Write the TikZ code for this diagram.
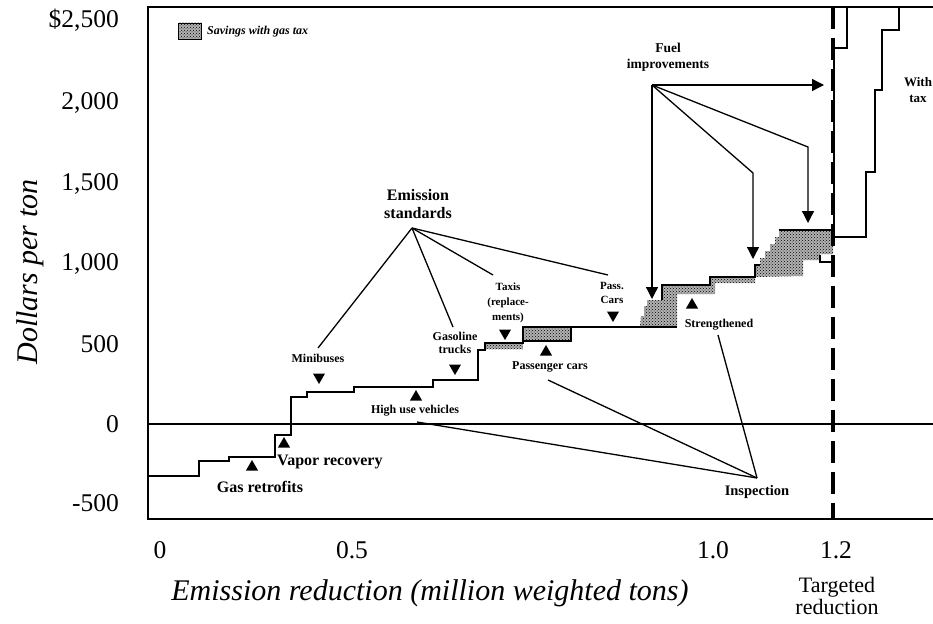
\documentclass[tikz,border=0pt]{standalone}
\usepackage{fontspec}
\setmainfont{Liberation Serif}
\usetikzlibrary{shapes.geometric,patterns,arrows.meta}
\begin{document}
\begin{tikzpicture}[x=1pt,y=-1pt,
  frameline/.style={line width=1.5pt},
  curve/.style={line width=1.7pt, line join=miter},
  taxcurve/.style={line width=1.4pt},
  leader/.style={line width=1.3pt},
  fuelarrow/.style={line width=1.3pt, -{Triangle[length=12pt,width=12pt]}},
  savingsbg/.style={fill=black!30},
  savings/.style={pattern=crosshatch dots, pattern color=black},
  mkup/.style={regular polygon, regular polygon sides=3, fill=black, inner sep=0pt, minimum size=14pt},
  mkdown/.style={mkup, shape border rotate=180},
  lab/.style={font=\fontsize{12}{13.5}\selectfont\bfseries, align=center, inner sep=0pt},
  biglab/.style={font=\fontsize{16}{17}\selectfont\bfseries, align=center, inner sep=0pt},
  tick/.style={font=\fontsize{25.5}{27}\selectfont, inner sep=0pt},
  axtitle/.style={font=\fontsize{30}{30}\selectfont\itshape, inner sep=0pt}
]
\useasboundingbox (0,0) rectangle (933,623);

% frame
\draw[frameline] (933,7) -- (148,7) -- (148,519) -- (933,519);
\draw[line width=1.3pt] (148,424) -- (933,424);

% y tick labels
\node[tick, anchor=east] (y2500) at (119,20) {\$2,500};
\node[tick, anchor=east] (y2000) at (119,103) {2,000};
\node[tick, anchor=east] (y1500) at (119,184) {1,500};
\node[tick, anchor=east] (y1000) at (119,264) {1,000};
\node[tick, anchor=east] (y500) at (119,344) {500};
\node[tick, anchor=east] (y0) at (119,424) {0};
\node[tick, anchor=east] (ym500) at (119,503) {-500};
\node[axtitle, rotate=90] (ytitle) at (30,272) {Dollars per ton};

% x tick labels
\node[tick] (x0) at (160,550) {0};
\node[tick] (x05) at (352,550) {0.5};
\node[tick] (x10) at (713,550) {1.0};
\node[tick] (x12) at (836,550) {1.2};
\node[axtitle] (xtitle) at (430,593) {Emission reduction (million weighted tons)};
\node[font=\fontsize{22}{22}\selectfont, align=center, inner sep=0pt] (target) at (837,596) {Targeted\\reduction};

% legend
\fill[savingsbg] (178,23) rectangle (201,39);
\fill[savings] (178,23) rectangle (201,39);
\draw[line width=0.8pt] (178,23) rectangle (201,39);
\node[font=\fontsize{12}{13}\selectfont\bfseries\itshape, anchor=west, inner sep=0pt] (legend) at (207,32) {Savings with gas tax};

% savings areas
\foreach \st in {savingsbg,savings}{
\fill[\st] (485,343) rectangle (523,349);
\fill[\st] (523,327) rectangle (571,341);
\fill[\st] (640,327) -- (641,316) -- (644,316) -- (644,306) -- (647,306) -- (647,300) -- (662,300) -- (662,285) -- (710,285) -- (710,277) -- (755,277) -- (755,283) -- (715,283) -- (715,294) -- (677,294) -- (677,327) -- cycle;
\fill[\st] (755,277) -- (755,265) -- (760,265) -- (760,258) -- (765,258) -- (765,251) -- (770,251) -- (770,244) -- (775,244) -- (775,237) -- (779,237) -- (779,230) -- (833,230) -- (833,254) -- (820,254) -- (820,260) -- (803,260) -- (803,276) -- cycle;
}

% main cost curve
\draw[curve] (148,476) -- (199,476) -- (199,461) -- (229,461) -- (229,457) -- (275,457) -- (275,435) -- (291,435) -- (291,397) -- (307,397) -- (307,392) -- (354,392) -- (354,387) -- (433,387) -- (433,380) -- (478,380) -- (478,350) -- (485,350) -- (485,343) -- (523,343) -- (523,327) -- (677,327);
\draw[curve] (523,341) -- (571,341) -- (571,327);
\draw[curve] (662,300) -- (662,285) -- (710,285) -- (710,277) -- (755,277) -- (755,265) -- (760,265);
\draw[curve] (779,230) -- (833,230);
\draw[taxcurve] (820,255) -- (820,262) -- (833,262);
\draw[taxcurve] (834,230) -- (834,48) -- (847,48) -- (847,7);
% with tax curve
\draw[taxcurve] (833,237) -- (866,237) -- (866,172) -- (875,172) -- (875,90) -- (882,90) -- (882,30) -- (899,30) -- (899,7);
\node[lab, font=\fontsize{13}{16}\selectfont\bfseries] (withtax) at (918,90) {With\\tax};

% targeted reduction dashed line
\draw[line width=3.5pt, dash pattern=on 22pt off 9pt] (833,7) -- (833,519);

% markers
\node[mkup] (mgas) at (252,467) {};
\node[mkup] (mvap) at (284,444) {};
\node[mkdown] (mmini) at (319,377) {};
\node[mkup] (mhigh) at (416,397) {};
\node[mkdown] (mgtr) at (455,368) {};
\node[mkdown] (mtaxi) at (505,333) {};
\node[mkup] (mpc) at (546,352) {};
\node[mkdown] (mpass) at (613,315) {};
\node[mkup] (mstr) at (692,305) {};

% labels
\node[biglab] (gasret) at (260,487) {Gas retrofits};
\node[biglab, anchor=west] (vapor) at (277,462) {Vapor recovery};
\node[lab] (mini) at (318,358) {Minibuses};
\node[lab] (high) at (415,411) {High use vehicles};
\node[lab] (gtr) at (455,343) {Gasoline\\trucks};
\node[lab, font=\fontsize{11}{15}\selectfont\bfseries] (taxi) at (508,303) {Taxis\\(replace-\\ments)};
\node[lab] (pcars) at (550,367) {Passenger cars};
\node[lab, font=\fontsize{11}{13.5}\selectfont\bfseries] (pass) at (612,293) {Pass.\\Cars};
\node[lab] (streng) at (719,325) {Strengthened};
\node[lab, font=\fontsize{14.5}{16}\selectfont\bfseries] (insp) at (757,492) {Inspection};
\node[biglab, font=\fontsize{16}{18}\selectfont\bfseries] (emstd) at (418,204) {Emission\\standards};
\node[biglab, font=\fontsize{13.5}{16}\selectfont\bfseries] (fuel) at (668,57) {Fuel\\improvements};

% leader coordinates
\coordinate (esa) at (412,228);
\coordinate (esmini) at (318,348);
\coordinate (esgtr) at (453,327);
\coordinate (estaxi) at (493,275);
\coordinate (espass) at (608,275);
\coordinate (insa) at (757,478);
\coordinate (inhigh) at (417,422);
\coordinate (inpc) at (548,380);
\coordinate (instr) at (718,335);
\coordinate (fua) at (652,85);
\coordinate (fub1) at (753,173);
\coordinate (fub2) at (808,147);
\coordinate (fut0) at (652,299);
\coordinate (fut1) at (753,259);
\coordinate (fut2) at (808,223);
\coordinate (futh) at (824,85);

\draw[leader] (esa) -- (esmini);
\draw[leader] (esa) -- (esgtr);
\draw[leader] (esa) -- (estaxi);
\draw[leader] (esa) -- (espass);
\draw[leader] (insa) -- (inhigh);
\draw[leader] (insa) -- (inpc);
\draw[leader] (insa) -- (instr);
\draw[fuelarrow] (fua) -- (futh);
\draw[fuelarrow] (fua) -- (fut0);
\draw[fuelarrow] (fua) -- (fub1) -- (fut1);
\draw[fuelarrow] (fua) -- (fub2) -- (fut2);
\end{tikzpicture}
\end{document}
